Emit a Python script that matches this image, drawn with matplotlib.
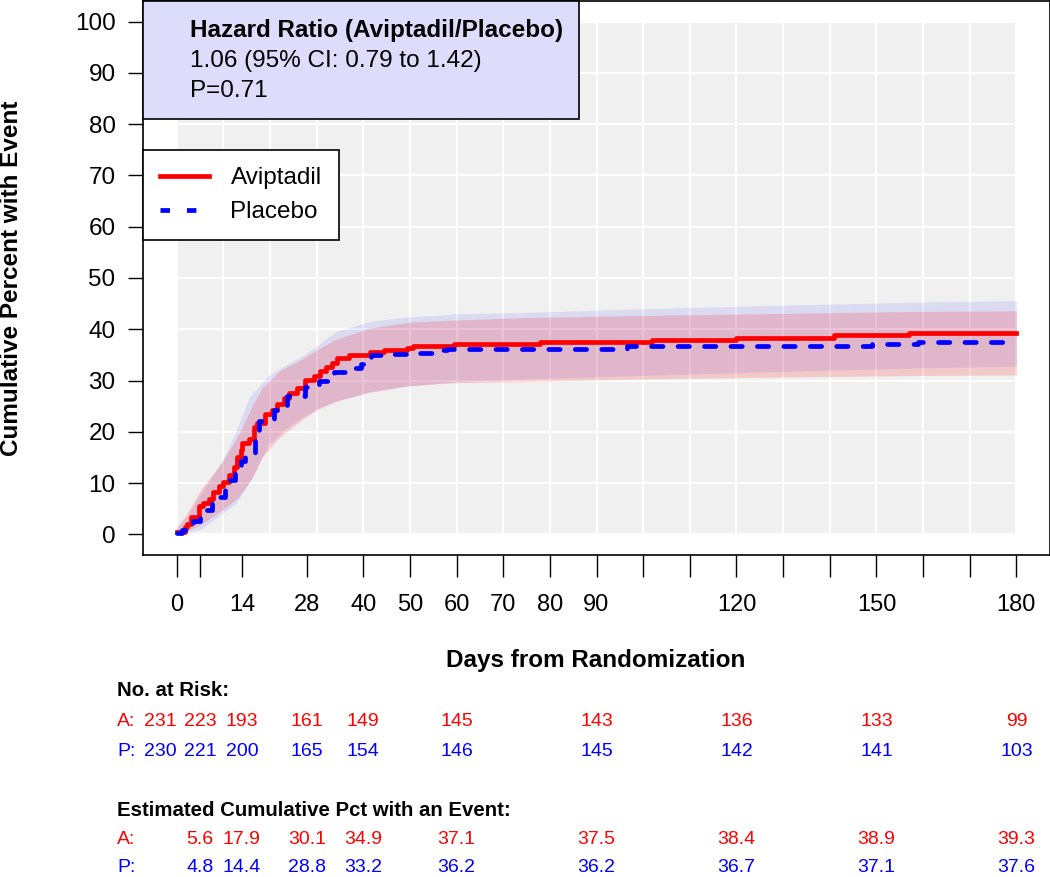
import numpy as np
import matplotlib
matplotlib.use("Agg")
import matplotlib.pyplot as plt
import matplotlib.transforms as mtransforms
from matplotlib.patches import Rectangle
from matplotlib.lines import Line2D

plt.rcParams['font.family'] = ['Liberation Sans', 'DejaVu Sans']

# 1. Data

# cumulative % with event, step curves
avip_t = [0, 1.9, 2.2, 3.1, 4.7, 5.6, 6.9, 7.9, 9.0, 10.0, 11.2, 12.2, 12.9, 13.7, 14.0,
          15.5, 16.6, 17.2, 19.0, 20.5, 21.5, 23.0, 24.0, 25.8, 27.5, 29.5, 30.8, 32.0,
          33.3, 34.4, 36.9, 41.5, 44.4, 49.4, 50.6, 59.4, 77.9, 101.9, 120.0, 140.8, 156.9, 180]
avip_v = [0.5, 1.4, 2.1, 3.4, 5.6, 6.1, 6.9, 8.2, 9.4, 10.2, 11.5, 13.1, 15.1, 16.4, 17.9,
          18.6, 20.9, 21.7, 23.4, 24.2, 25.5, 26.6, 27.5, 28.6, 30.1, 30.9, 31.8, 32.7,
          33.5, 34.4, 34.9, 35.5, 36.0, 36.4, 36.8, 37.1, 37.5, 38.0, 38.4, 38.9, 39.3, 39.3]

plac_t = [0, 1.2, 2.6, 3.6, 5.0, 7.6, 10.4, 11.0, 12.6, 13.8, 14.7, 16.7, 17.6, 20.8, 23.7,
          27.5, 30.5, 33.7, 37.5, 39.5, 41.6, 46.2, 50.0, 56.0, 58.0, 96.5, 149.0, 159.0, 180]
plac_v = [0.3, 0.8, 1.8, 2.6, 4.8, 7.3, 9.2, 10.7, 12.3, 14.4, 15.6, 19.5, 22.2, 24.3, 26.9,
          28.8, 29.9, 31.6, 32.5, 33.2, 34.9, 35.2, 35.4, 35.9, 36.2, 36.7, 37.1, 37.6, 37.6]

# 95% confidence bands
avip_ci_t = [0, 2, 5.4, 9.7, 13.3, 16.2, 18.3, 21.9, 26.9, 30.5, 34, 38.3, 41.2, 50, 60, 75, 100, 130, 160, 180]
avip_lo = [0, 0.6, 2.1, 4.7, 7.3, 11.0, 15.0, 18.8, 22.4, 24.5, 25.9, 27.0, 27.7, 29.0, 29.6, 29.8, 30.3, 30.7, 31.0, 31.1]
avip_hi = [1.5, 3.8, 9.0, 14.0, 19.5, 25.0, 28.5, 31.8, 34.2, 36.2, 38.0, 39.3, 40.2, 41.4, 41.8, 42.3, 42.7, 43.1, 43.5, 43.6]

plac_ci_t = [0, 2, 5.4, 9.7, 12.6, 15.5, 19.7, 23.3, 26.9, 30.5, 34, 38.3, 41.2, 48, 60, 75, 100, 130, 160, 180]
plac_lo = [0, 0.3, 1.1, 4.0, 6.0, 10.0, 17.5, 20.6, 22.8, 24.7, 26.0, 27.0, 27.8, 28.8, 29.8, 30.3, 31.0, 31.8, 32.5, 32.8]
plac_hi = [1.0, 3.2, 8.3, 14.3, 19.8, 26.6, 31.0, 33.0, 34.8, 37.0, 39.5, 40.7, 41.5, 42.3, 43.0, 43.3, 44.0, 44.7, 45.3, 45.6]

# risk table
risk_t = [0, 5, 14, 28, 40, 60, 90, 120, 150, 180]
risk_a = [231, 223, 193, 161, 149, 145, 143, 136, 133, 99]
risk_p = [230, 221, 200, 165, 154, 146, 145, 142, 141, 103]
pct_t = [5, 14, 28, 40, 60, 90, 120, 150, 180]
pct_a = ['5.6', '17.9', '30.1', '34.9', '37.1', '37.5', '38.4', '38.9', '39.3']
pct_p = ['4.8', '14.4', '28.8', '33.2', '36.2', '36.2', '36.7', '37.1', '37.6']

xticks = [0, 5, 14, 28, 40, 50, 60, 70, 80, 90, 100, 110, 120, 130, 140, 150, 160, 170, 180]
xticklabels = ['0', '', '14', '28', '40', '50', '60', '70', '80', '90', '', '', '120', '', '', '150', '', '', '180']

RED = '#FF0000'
BLUE = '#0000FF'
DASH = (0, (2.4, 3.2))

# 2. Figure

W, H = 1050, 877
fig = plt.figure(figsize=(W / 100, H / 100), dpi=100)
ax = fig.add_axes([143 / W, 1 - 555 / H, 907 / W, 554 / H])
ax.set_xlim(-7.2, 187.2)
ax.set_ylim(-4, 104)

# grey panel + white grid
ax.add_patch(Rectangle((0, 0), 180, 100, facecolor='#F0F0F0', edgecolor='none', zorder=0))
ax.vlines(np.arange(0, 181, 10), 0, 100, color='white', lw=1.5, zorder=0.5)
ax.hlines(np.arange(0, 101, 10), 0, 180, color='white', lw=1.5, zorder=0.5)

# bands
ax.fill_between(plac_ci_t, plac_lo, plac_hi, color=BLUE, alpha=0.09, lw=0, zorder=1)
ax.fill_between(avip_ci_t, avip_lo, avip_hi, color=RED, alpha=0.16, lw=0, zorder=1.1)

# curves
ax.step(avip_t, avip_v, where='post', color=RED, lw=3.4, zorder=3)
ax.step(plac_t, plac_v, where='post', color=BLUE, lw=3.4, zorder=4,
        linestyle=DASH, dash_capstyle='round')

# axes
ax.set_xticks(xticks)
ax.set_xticklabels(xticklabels)
ax.set_yticks(np.arange(0, 101, 10))
ax.tick_params(axis='x', length=15.8, width=1.0, pad=12, labelsize=17)
ax.tick_params(axis='y', length=10.8, width=1.0, pad=9, labelsize=17.5)
for s in ax.spines.values():
    s.set_linewidth(1.2)

fig.text(596 / W, 1 - 660 / H, 'Days from Randomization', ha='center', va='center',
         fontsize=17.5, fontweight='bold')
fig.text(12 / W, 1 - 278 / H, 'Cumulative Percent with Event', ha='center', va='center',
         rotation=90, fontsize=17.5, fontweight='bold')

# hazard ratio box
ax.add_patch(Rectangle((0, 0.787), 0.4807, 0.213, transform=ax.transAxes,
                       facecolor='#DDDDFB', edgecolor='black', lw=1.2, zorder=10, clip_on=False))
tx = (190 - 143) / 907
ax.text(tx, 0.935, 'Hazard Ratio (Aviptadil/Placebo)', transform=ax.transAxes,
        fontsize=17.5, fontweight='bold', va='baseline', zorder=11)
ax.text(tx, 0.881, '1.06 (95% CI: 0.79 to 1.42)', transform=ax.transAxes,
        fontsize=17.5, va='baseline', zorder=11)
ax.text(tx, 0.827, 'P=0.71', transform=ax.transAxes, fontsize=17.5, va='baseline', zorder=11)

# legend
handles = [Line2D([], [], color=RED, lw=3.4),
           Line2D([], [], color=BLUE, lw=3.4, linestyle=(0, (2, 3.6)), dash_capstyle='butt')]
leg = ax.legend(handles, ['Aviptadil', 'Placebo'], loc='upper left', bbox_to_anchor=(0, 0.731),
                borderaxespad=0, fancybox=False, edgecolor='black', framealpha=1,
                fontsize=17.5, handlelength=2.0, handletextpad=0.9, labelspacing=0.5,
                borderpad=0.7)
leg.get_frame().set_linewidth(1.2)
leg.set_zorder(12)

# risk table
tr = mtransforms.blended_transform_factory(ax.transData, fig.transFigure)
fs = 14
fs_head = 14.7
fig.text(117 / W, 1 - 690 / H, 'No. at Risk:', fontsize=fs_head, fontweight='bold', va='center')
fig.text(117 / W, 1 - 722 / H, 'A:', fontsize=fs, color=RED, va='center')
fig.text(117 / W, 1 - 751 / H, 'P:', fontsize=fs, color=BLUE, va='center')
for i, t in enumerate(risk_t):
    ha = 'right' if i == 0 else 'center'
    ax.text(t, 1 - 722 / H, str(risk_a[i]), transform=tr, fontsize=fs, color=RED, ha=ha, va='center')
    ax.text(t, 1 - 751 / H, str(risk_p[i]), transform=tr, fontsize=fs, color=BLUE, ha=ha, va='center')

fig.text(117 / W, 1 - 810 / H, 'Estimated Cumulative Pct with an Event:', fontsize=fs_head,
         fontweight='bold', va='center')
fig.text(117 / W, 1 - 839 / H, 'A:', fontsize=fs, color=RED, va='center')
fig.text(117 / W, 1 - 868 / H, 'P:', fontsize=fs, color=BLUE, va='center')
for i, t in enumerate(pct_t):
    ax.text(t, 1 - 839 / H, pct_a[i], transform=tr, fontsize=fs, color=RED, ha='center', va='center')
    ax.text(t, 1 - 868 / H, pct_p[i], transform=tr, fontsize=fs, color=BLUE, ha='center', va='center')

fig.savefig('out.png', dpi=100)
